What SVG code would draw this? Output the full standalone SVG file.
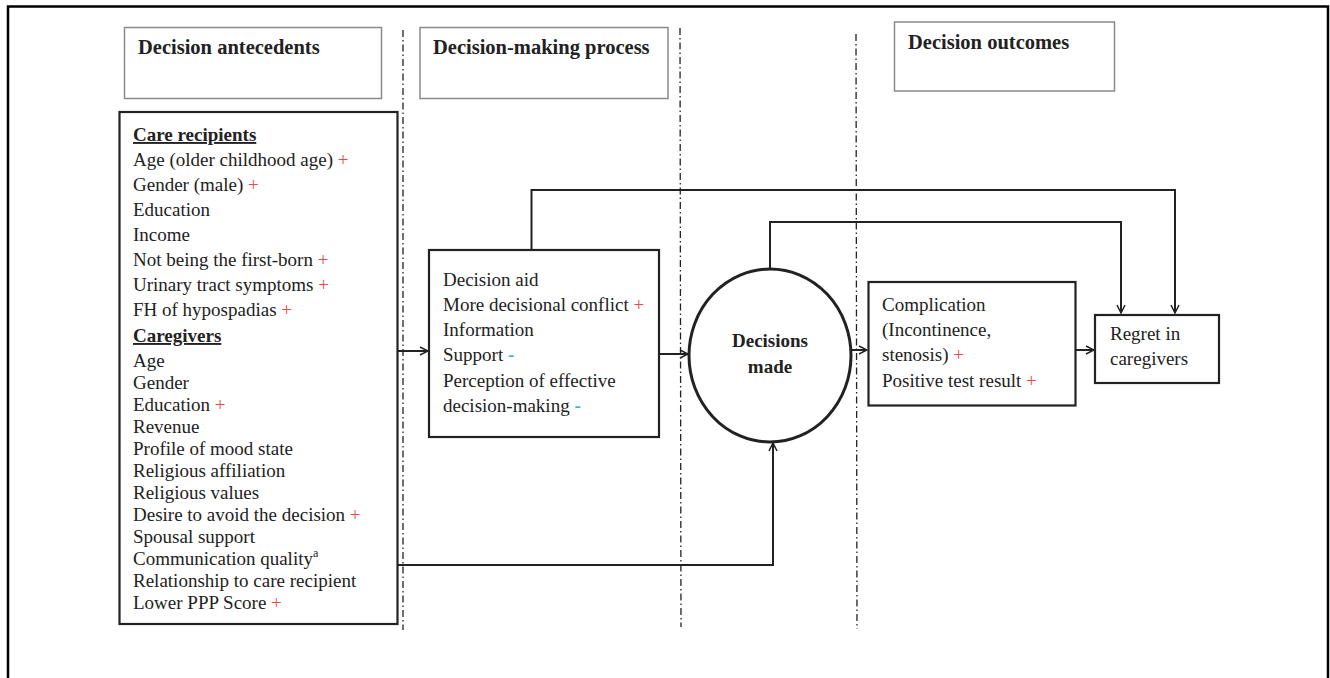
<svg xmlns="http://www.w3.org/2000/svg" width="1330" height="678" viewBox="0 0 1330 678">
<defs>
<style>
text{font-family:"Liberation Serif","Times New Roman",serif;fill:#222;}
.t{font-size:19px;}
.h{font-size:20.5px;font-weight:bold;}
.b{font-size:19px;font-weight:bold;}
.u{text-decoration:underline;}
.p{fill:#f0484a;}
.m{fill:#3aaee0;font-weight:bold;}
.hb{fill:#fff;stroke:#8a8a8a;stroke-width:1.5;}
.box{fill:#fff;stroke:#222;stroke-width:2.2;}
.dd{stroke:#222;stroke-width:1.3;stroke-dasharray:7 3 1.5 3;fill:none;}
.c{fill:none;stroke:#222;stroke-width:2;}
</style>
<marker id="arr" viewBox="0 0 10 10" refX="9" refY="5" markerWidth="10" markerHeight="10" markerUnits="userSpaceOnUse" orient="auto">
<path d="M1,1 L9,5 L1,9" fill="none" stroke="#222" stroke-width="1.5"/>
</marker>
</defs>
<rect x="0" y="0" width="1330" height="678" fill="#fff"/>
<path d="M8,690 V6.5 H1328 V690" fill="none" stroke="#000" stroke-width="2.5"/>

<g id="dividers">
<line class="dd" x1="403" y1="30" x2="403" y2="630"/>
<line class="dd" x1="680" y1="28" x2="681" y2="627"/>
<line class="dd" x1="856" y1="34" x2="857" y2="629"/>
</g>

<g id="hdr-antecedents">
<rect class="hb" x="124.5" y="27.5" width="257" height="71"/>
<text class="h" x="138" y="54">Decision antecedents</text>
</g>
<g id="hdr-process">
<rect class="hb" x="420" y="27.5" width="248" height="71"/>
<text class="h" x="433" y="54">Decision-making process</text>
</g>
<g id="hdr-outcomes">
<rect class="hb" x="894.5" y="22" width="220" height="69"/>
<text class="h" x="908" y="49">Decision outcomes</text>
</g>

<g id="connectors">
<path class="c" d="M398,351 H428" marker-end="url(#arr)"/>
<path class="c" d="M659,354 H688" marker-end="url(#arr)"/>
<path class="c" d="M851,350 H867" marker-end="url(#arr)"/>
<path class="c" d="M1075,350 H1094" marker-end="url(#arr)"/>
<path class="c" d="M531.5,250 V190 H1175 V313" marker-end="url(#arr)"/>
<path class="c" d="M770,269 V222 H1121 V313" marker-end="url(#arr)"/>
<path class="c" d="M398,565 H773 V443" marker-end="url(#arr)"/>
</g>

<g id="antecedents">
<rect class="box" x="119.5" y="112" width="278" height="512" stroke-width="2.6"/>
<text class="b u" x="133" y="141">Care recipients</text>
<text class="t" x="133" y="166">Age (older childhood age) <tspan class="p">+</tspan></text>
<text class="t" x="133" y="191">Gender (male) <tspan class="p">+</tspan></text>
<text class="t" x="133" y="216">Education</text>
<text class="t" x="133" y="241">Income</text>
<text class="t" x="133" y="266">Not being the first-born <tspan class="p">+</tspan></text>
<text class="t" x="133" y="291">Urinary tract symptoms <tspan class="p">+</tspan></text>
<text class="t" x="133" y="316">FH of hypospadias <tspan class="p">+</tspan></text>
<text class="b u" x="133" y="342">Caregivers</text>
<text class="t" x="133" y="367">Age</text>
<text class="t" x="133" y="389">Gender</text>
<text class="t" x="133" y="411">Education <tspan class="p">+</tspan></text>
<text class="t" x="133" y="433">Revenue</text>
<text class="t" x="133" y="455">Profile of mood state</text>
<text class="t" x="133" y="477">Religious affiliation</text>
<text class="t" x="133" y="499">Religious values</text>
<text class="t" x="133" y="521">Desire to avoid the decision <tspan class="p">+</tspan></text>
<text class="t" x="133" y="543">Spousal support</text>
<text class="t" x="133" y="565">Communication quality<tspan font-size="12" dy="-8">a</tspan></text>
<text class="t" x="133" y="587">Relationship to care recipient</text>
<text class="t" x="133" y="609">Lower PPP Score <tspan class="p">+</tspan></text>
</g>

<g id="process">
<rect class="box" x="429" y="250" width="230" height="187"/>
<text class="t" x="443" y="286">Decision aid</text>
<text class="t" x="443" y="311">More decisional conflict <tspan class="p">+</tspan></text>
<text class="t" x="443" y="336">Information</text>
<text class="t" x="443" y="361">Support <tspan class="m">-</tspan></text>
<text class="t" x="443" y="387">Perception of effective</text>
<text class="t" x="443" y="412">decision-making <tspan class="m">-</tspan></text>
</g>

<g id="decisions">
<ellipse cx="770" cy="355.5" rx="81" ry="86.5" fill="#fff" stroke="#222" stroke-width="3"/>
<text class="b" x="770" y="347" text-anchor="middle">Decisions</text>
<text class="b" x="770" y="373" text-anchor="middle">made</text>
</g>

<g id="outcomes">
<rect class="box" x="868.5" y="282" width="207" height="123.5"/>
<text class="t" x="882" y="311">Complication</text>
<text class="t" x="882" y="336">(Incontinence,</text>
<text class="t" x="882" y="361">stenosis) <tspan class="p">+</tspan></text>
<text class="t" x="882" y="387">Positive test result <tspan class="p">+</tspan></text>
</g>

<g id="regret">
<rect class="box" x="1095" y="315" width="124" height="68"/>
<text class="t" x="1110" y="340">Regret in</text>
<text class="t" x="1110" y="365">caregivers</text>
</g>
</svg>
